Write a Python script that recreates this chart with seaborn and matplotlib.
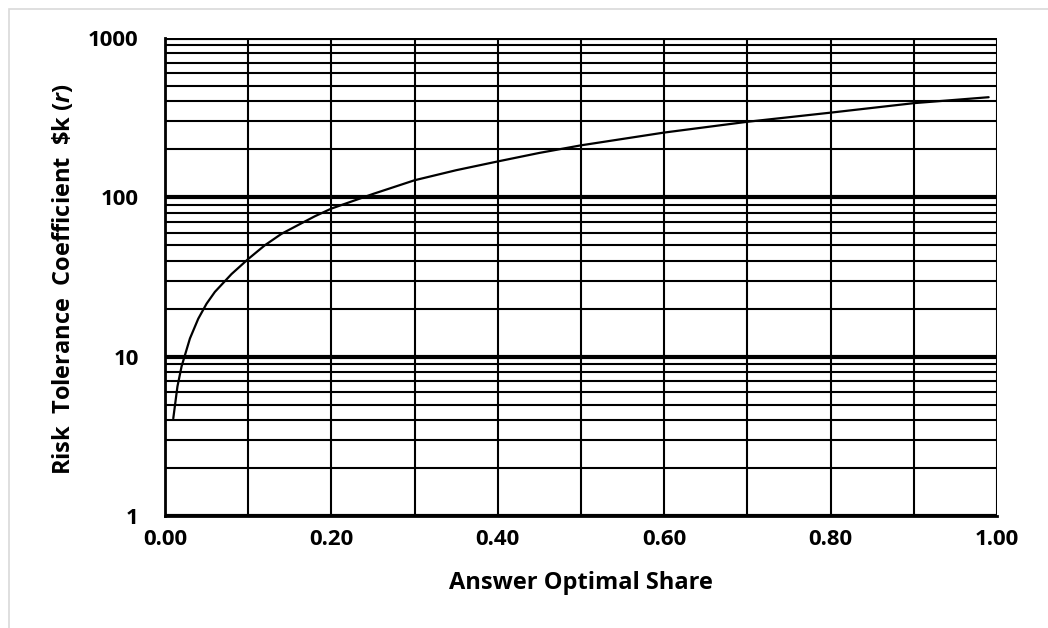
import matplotlib
matplotlib.use("Agg")
import matplotlib.pyplot as plt
import matplotlib.ticker as mticker
from matplotlib.patches import Rectangle
import seaborn as sns
import pandas as pd

share = [0.01, 0.015, 0.02, 0.03, 0.04, 0.05, 0.06, 0.08, 0.10, 0.12, 0.14, 0.16, 0.18,
         0.20, 0.25, 0.30, 0.35, 0.40, 0.45, 0.50, 0.60, 0.70, 0.80, 0.90, 0.99]
risk_tol = [4.1, 6.5, 8.7, 13, 17.3, 21.5, 25.5, 33, 41, 50, 59, 67, 76,
            85, 105, 128, 148, 168, 190, 212, 255, 298, 340, 390, 425]
x_ticks = [0.0, 0.2, 0.4, 0.6, 0.8, 1.0]
y_ticks = [1, 10, 100, 1000]

sns.set_style("white")
plt.rcParams['font.family'] = ['Open Sans', 'DejaVu Sans']
plt.rcParams['mathtext.fontset'] = 'custom'
plt.rcParams['mathtext.bfit'] = 'Open Sans:bold:italic'
plt.rcParams['mathtext.it'] = 'Open Sans:bold:italic'
plt.rcParams['text.color'] = 'black'
plt.rcParams['axes.labelcolor'] = 'black'
plt.rcParams['xtick.color'] = 'black'
plt.rcParams['ytick.color'] = 'black'

fig = plt.figure(figsize=(10.48, 6.28), dpi=100)
ax = fig.add_axes([0.1574, 0.1783, 0.7939, 0.7612])

df = pd.DataFrame({"share": share, "r": risk_tol})
sns.lineplot(data=df, x="share", y="r", ax=ax, color="black", lw=1.6, zorder=5)

ax.set_yscale("log")
ax.set_xlim(0, 1)
ax.set_ylim(1, 1000)
ax.set_xticks(x_ticks)
ax.xaxis.set_minor_locator(mticker.MultipleLocator(0.1))
ax.xaxis.set_major_formatter(mticker.FormatStrFormatter("%.2f"))
ax.set_yticks(y_ticks)
ax.yaxis.set_major_formatter(mticker.FuncFormatter(lambda v, p: f"{int(round(v))}"))
ax.yaxis.set_minor_locator(mticker.LogLocator(base=10, subs=range(2, 10)))
ax.yaxis.set_minor_formatter(mticker.NullFormatter())

ax.grid(which="major", axis="y", color="black", lw=3.0)
ax.grid(which="minor", axis="y", color="black", lw=1.5)
ax.grid(which="both", axis="x", color="black", lw=1.5)
ax.set_axisbelow(True)
ax.tick_params(which="both", length=0, labelsize=16, colors="black")
ax.tick_params(axis="x", pad=9)
ax.tick_params(axis="y", pad=19)
for lab in ax.get_xticklabels() + ax.get_yticklabels():
    lab.set_fontweight("bold")

for s in ["left", "bottom"]:
    ax.spines[s].set_color("black")
    ax.spines[s].set_linewidth(2)
ax.spines["top"].set_visible(False)
ax.spines["right"].set_visible(False)

ax.set_xlabel("Answer Optimal Share", fontsize=17, fontweight="bold", color="black")
ax.set_ylabel(r"Risk  Tolerance  Coefficient  \$k ($\mathit{r}$)", fontsize=17,
              fontweight="bold", color="black")
ax.xaxis.set_label_coords(0.5, -0.115)
ax.yaxis.set_label_coords(-0.107, 0.495)

fig.patches.append(Rectangle((9/1048, -0.1), 1.2, 1 - 9/628 + 0.1, transform=fig.transFigure,
                             fill=False, edgecolor="#d9d9d9", lw=1.2))

fig.savefig("out.png", dpi=100, facecolor="white")
